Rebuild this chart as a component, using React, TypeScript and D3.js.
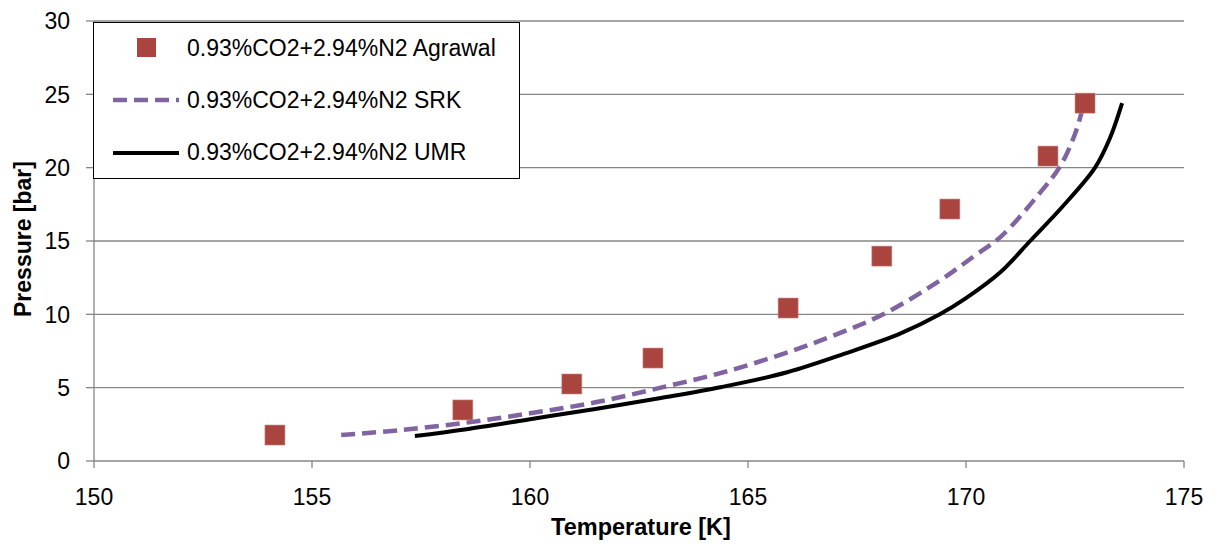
import React from "react";
import * as d3 from "d3";

const xTicks = [150, 155, 160, 165, 170, 175];
const yTicks = [0, 5, 10, 15, 20, 25, 30];

const agrawalT = [154.15, 158.46, 160.96, 162.82, 165.92, 168.07, 169.63, 171.88, 172.73];
const agrawalP = [1.77, 3.48, 5.25, 7.02, 10.43, 13.97, 17.18, 20.79, 24.4];

const srkT = [155.67, 157, 158.5, 160, 161.5, 163, 164.5, 166, 167, 168.1, 169.4, 170.2, 170.8, 171.7, 172.16, 172.5, 172.68];
const srkP = [1.77, 2.1, 2.6, 3.25, 4.0, 5.0, 6.1, 7.5, 8.6, 10.0, 12.3, 14.0, 15.3, 18.3, 20.1, 22.3, 24.1];

const umrT = [157.36, 158.5, 160, 161.5, 163, 164.4, 165.9, 167.2, 168.5, 169.4, 170, 170.8, 171.47, 172.2, 172.96, 173.3, 173.58];
const umrP = [1.7, 2.15, 2.85, 3.55, 4.3, 5.05, 6.05, 7.3, 8.7, 10.0, 11.1, 12.9, 15.0, 17.3, 20.0, 22.0, 24.4];

const labels = ["0.93%CO2+2.94%N2 Agrawal", "0.93%CO2+2.94%N2 SRK", "0.93%CO2+2.94%N2 UMR"];

const FONT = "'Liberation Sans', Arial, sans-serif";

export default function App() {
  const W = 1211, H = 544;
  const x = d3.scaleLinear().domain([150, 175]).range([94, 1184]);
  const y = d3.scaleLinear().domain([0, 30]).range([461, 21]);
  const line = d3.line<[number, number]>().x(d => x(d[0])).y(d => y(d[1])).curve(d3.curveCatmullRom.alpha(0.5));
  const srk = srkT.map((t, i) => [t, srkP[i]] as [number, number]);
  const umr = umrT.map((t, i) => [t, umrP[i]] as [number, number]);
  const grid = "#868686";
  return (
    <svg width={W} height={H} style={{ position: "absolute", left: 0, top: 0 }} fontFamily={FONT}>
      <rect width={W} height={H} fill="#fff" />
      {yTicks.map(v => (
        <g key={"y" + v}>
          {v > 0 && <line x1={94} x2={1184} y1={y(v)} y2={y(v)} stroke={grid} strokeWidth={1.3} />}
          <line x1={86} x2={94} y1={y(v)} y2={y(v)} stroke={grid} strokeWidth={1.3} />
          <text x={70} y={y(v)} dy="0.36em" textAnchor="end" fontSize={23} fill="#000">{v}</text>
        </g>
      ))}
      <line x1={94} x2={94} y1={21} y2={461} stroke={grid} strokeWidth={1.3} />
      <line x1={94} x2={1184} y1={461} y2={461} stroke={grid} strokeWidth={1.3} />
      {xTicks.map(v => (
        <g key={"x" + v}>
          <line x1={x(v)} x2={x(v)} y1={461} y2={468} stroke={grid} strokeWidth={1.3} />
          <text x={x(v)} y={505} textAnchor="middle" fontSize={23} fill="#000">{v}</text>
        </g>
      ))}
      <text x={641} y={535} textAnchor="middle" fontSize={23.5} fontWeight="bold">Temperature [K]</text>
      <text transform="translate(31,239) rotate(-90)" textAnchor="middle" fontSize={23} fontWeight="bold">Pressure [bar]</text>

      <path d={line(srk) || ""} fill="none" stroke="#8064A2" strokeWidth={4.5} strokeDasharray="14 7" />
      <path d={line(umr) || ""} fill="none" stroke="#000" strokeWidth={4} />
      {agrawalT.map((t, i) => (
        <rect key={"a" + i} x={x(t) - 10} y={y(agrawalP[i]) - 10} width={20} height={20} fill="#A9443F" stroke="#c88a86" strokeWidth={0.6} />
      ))}

      <rect x={93.5} y={22.5} width={426} height={156} fill="#fff" stroke="#000" strokeWidth={1} />
      <rect x={137} y={38} width={19} height={19} fill="#A9443F" />
      <line x1={113} x2={179} y1={100} y2={100} stroke="#8064A2" strokeWidth={4.5} strokeDasharray="14 7" />
      <line x1={113} x2={179} y1={153} y2={153} stroke="#000" strokeWidth={4} />
      {labels.map((l, i) => (
        <text key={l} x={187} y={56 + i * 52} fontSize={23}>{l}</text>
      ))}
    </svg>
  );
}
